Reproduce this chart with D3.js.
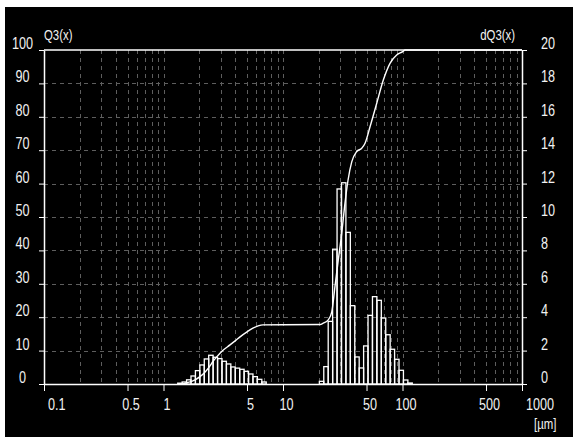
<!DOCTYPE html>
<html><head><meta charset="utf-8">
<script src="https://cdn.jsdelivr.net/npm/d3@7"></script>
<style>
body{margin:0;background:#fff}
svg{display:block}
text{font-family:"Liberation Sans",Arial,sans-serif;fill:#f2f2f2}
</style>
</head><body><svg id="c" width="573" height="437"></svg>
<script>
// size class edges (µm)
const classEdges = [1.3152,1.4322,1.5597,1.6985,1.8497,2.0146,2.1939,2.3891,2.6019,2.8336,3.0858,3.3605,3.6597,3.9855,4.3403,4.7267,5.1474,5.6057,6.1048,6.6481,7.2400,
  7.8846,8.5865,9.3508,10.183,11.090,12.077,13.152,14.322,15.597,16.985,18.497,
  20.146,21.939,23.891,26.019,28.336,30.858,33.605,36.597,39.855,43.403,47.267,51.474,56.057,61.048,66.481,72.400,78.846,85.865,93.508,101.83,110.90,120.77];
// density per class (%), right axis
const dQ3 = [0.05,0.12,0.25,0.48,0.8,1.14,1.5,1.72,1.6,1.52,1.36,1.2,1.02,0.95,0.88,0.76,0.6,0.44,0.28,0.12,
  0,0,0,0,0,0,0,0,0,0,0,0,
  0.16,1.04,3.75,8.07,11.68,12.05,9.08,4.69,1.62,0.96,2.28,4.11,5.23,5.01,3.95,2.95,2.08,1.48,0.82,0.24,0.06];
// cumulative curve (left axis)
const q3Size = [1.32,1.45,1.57,1.72,1.87,2.02,2.2,2.4,2.6,2.8,3.1,3.6,4.0,4.4,5.0,5.6,6.2,6.8,20.4,21.7,23.9,25.6,27.2,29.0,31.0,33.0,35.0,37.6,41.4,45.6,48.6,53.5,60.8,69.1,78.6,89.4,100.4,105,1000];
const q3Pct  = [0,0.1,0.4,0.8,1.4,2.2,3.4,5.0,6.8,8.2,9.9,11.7,13.0,14.2,15.6,16.7,17.4,17.7,17.8,18.2,19.2,21.6,29.1,37.1,45.1,54.1,61,66.5,69.6,70.6,72.1,77,84,91,96,98.5,99.5,100,100];
const xTickValues = [0.1,0.5,1,5,10,50,100,500,1000];
const xTickLabels = ["0.1","0.5","1","5","10","50","100","500","1000"];
const leftTicks = [0,10,20,30,40,50,60,70,80,90,100];
const rightTicks = [0,2,4,6,8,10,12,14,16,18,20];

const svg = d3.select("#c");
svg.append("rect").attr("x",5).attr("y",7).attr("width",568).attr("height",430).attr("fill","#000");

const L=44, R=522, T=50, B=384;
const x = d3.scaleLog().domain([0.1,1000]).range([L,R]);
const yL = d3.scaleLinear().domain([0,100]).range([B,T]);
const yR = d3.scaleLinear().domain([0,20]).range([B,T]);

// place text condensed (narrow instrument font look)
function condense(sel, px, py, sx){
  sel.attr("x",null).attr("y",null).attr("dx",null).attr("dy",null)
     .attr("transform",function(d,i){return `translate(${typeof px==="function"?px(d,i):px},${py}) scale(${sx},1)`;});
}

// grid
const grid = svg.append("g").attr("shape-rendering","crispEdges").attr("stroke","#5e5e5e").attr("stroke-dasharray","4,4");
x.ticks().filter(d=>d>0.1 && d<1000).forEach(d=>{
  const px=Math.round(x(d))+0.5;
  grid.append("line").attr("x1",px).attr("x2",px).attr("y1",T).attr("y2",B);
});
leftTicks.filter(d=>d>0 && d<100).forEach(d=>{
  const py=Math.round(yL(d))+0.5;
  grid.append("line").attr("x1",L).attr("x2",R).attr("y1",py).attr("y2",py);
});

// bars
const bars = svg.append("g");
dQ3.forEach((v,i)=>{
  if(v<=0) return;
  const x0=x(classEdges[i]), x1=x(classEdges[i+1]);
  bars.append("rect").attr("x",x0).attr("width",x1-x0).attr("y",yR(v)).attr("height",B-yR(v))
    .attr("fill","none").attr("stroke","#fff").attr("stroke-width",1.3);
});

// curve
const line = d3.line().x((d,i)=>x(q3Size[i])).y(d=>yL(d)).curve(d3.curveMonotoneX);
svg.append("path").attr("d",line(q3Pct)).attr("fill","none").attr("stroke","#fff").attr("stroke-width",1.4);

// axes
const ax = g=>{g.selectAll(".domain").attr("stroke","#fff").attr("stroke-width",1.5);g.selectAll(".tick line").attr("stroke","#fff");g.selectAll("text").style("font-size","16px").attr("fill","#f2f2f2");};
svg.append("g").attr("transform",`translate(${L},0)`)
  .call(d3.axisLeft(yL).tickValues(leftTicks).tickSize(5).tickSizeOuter(0))
  .call(ax).call(g=>condense(g.selectAll("text").attr("text-anchor","middle"),-21.5,-1.5,0.79));
svg.append("g").attr("transform",`translate(${R},0)`)
  .call(d3.axisRight(yR).tickValues(rightTicks).tickSize(5).tickSizeOuter(0))
  .call(ax).call(g=>condense(g.selectAll("text").attr("text-anchor","start"),19,-1.5,0.79));
const last = xTickValues.length-1;
svg.append("g").attr("transform",`translate(0,${B})`)
  .call(d3.axisBottom(x).tickValues(xTickValues).tickFormat((d,i)=>xTickLabels[i]).tickSize(7).tickSizeOuter(0))
  .call(ax).call(g=>condense(g.selectAll("text")
     .attr("text-anchor",(d,i)=> (i===0||i===last)?"start":"middle"),
     (d,i)=> (i===0||i===last)?3.5:3, 26, 0.79));
// top frame
svg.append("line").attr("x1",L).attr("x2",R).attr("y1",T).attr("y2",T).attr("stroke","#fff").attr("stroke-width",1.5);

// titles
condense(svg.append("text").style("font-size","15px").text("Q3(x)"),44,40,0.76);
condense(svg.append("text").attr("text-anchor","end").style("font-size","15px").text("dQ3(x)"),515,40,0.76);
condense(svg.append("text").style("font-size","15px").text("[µm]"),534,429,0.76);
</script></body></html>
